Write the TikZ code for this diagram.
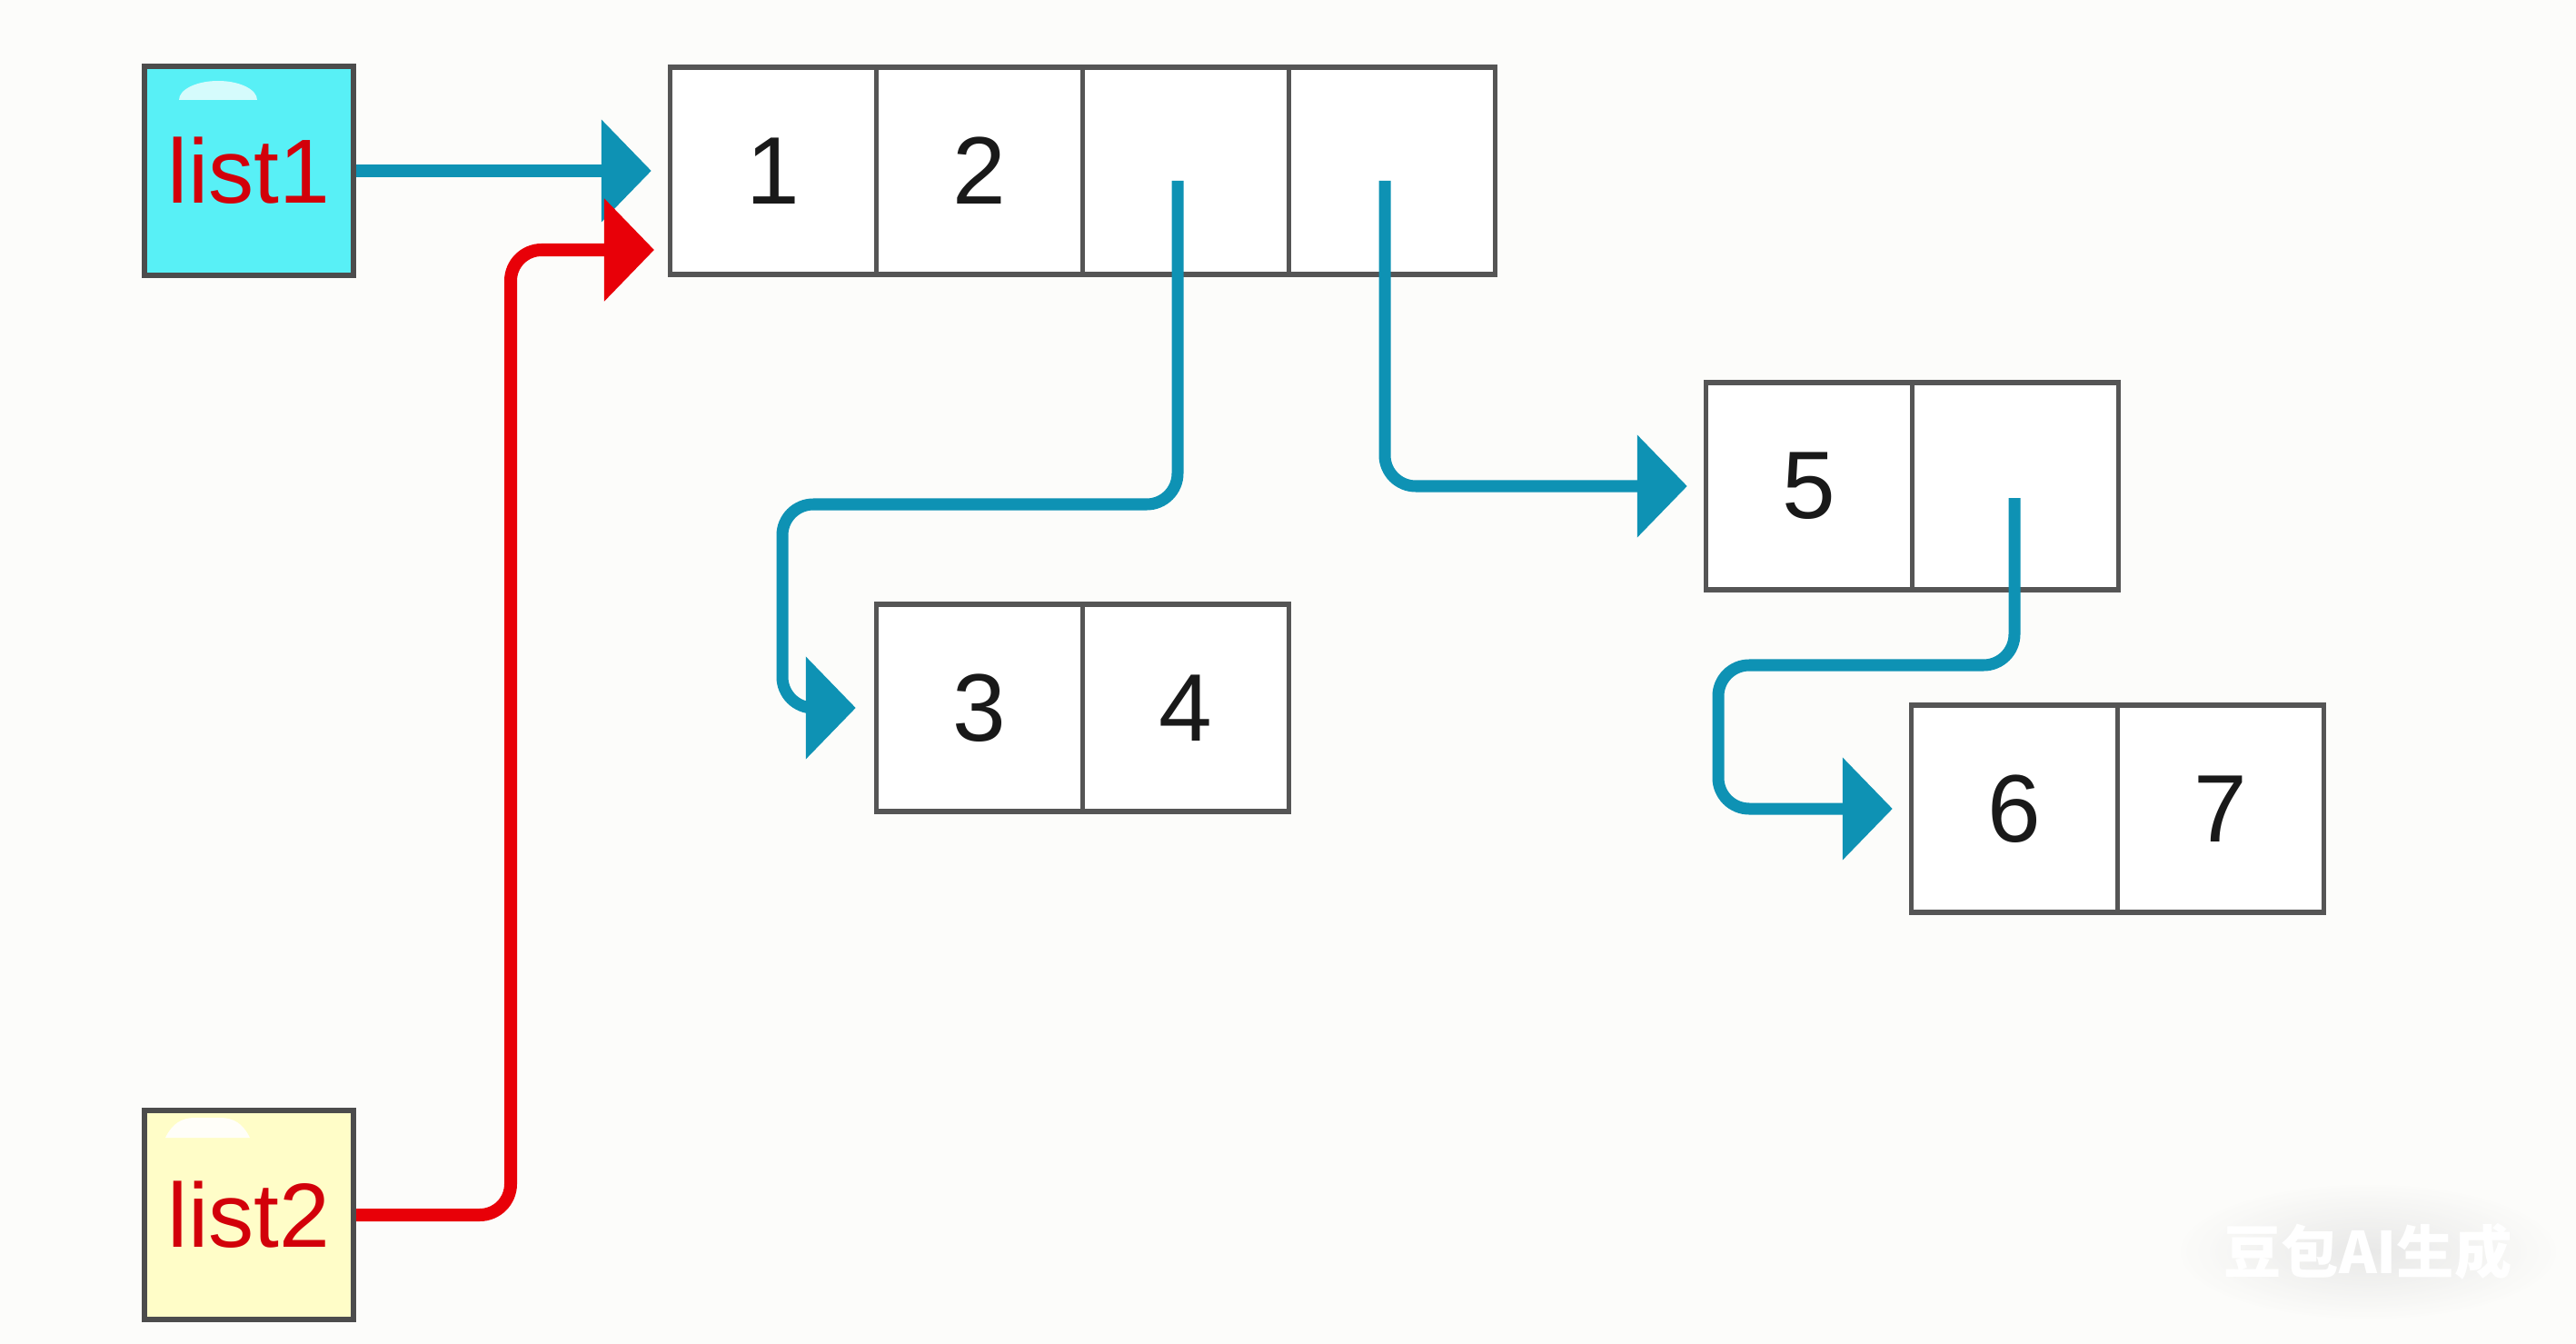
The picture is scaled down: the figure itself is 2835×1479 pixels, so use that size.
\documentclass[tikz,border=0pt]{standalone}
\usepackage{fontspec}
\setmainfont{Liberation Sans}
\newfontfamily\cjkfont{Noto Sans CJK SC}
\usetikzlibrary{arrows.meta,calc}
\definecolor{bgc}{RGB}{252,252,250}
\definecolor{ptrblue}{RGB}{14,146,180}
\definecolor{ptrred}{RGB}{232,0,8}
\definecolor{lblred}{RGB}{210,0,10}
\definecolor{cyanfill}{RGB}{88,240,246}
\definecolor{yellowfill}{RGB}{255,253,200}
\definecolor{boxline}{RGB}{85,85,85}
\tikzset{
  cell/.style={draw=boxline, line width=1.5pt, fill=white, minimum width=2.27cm, minimum height=2.28cm,
    inner sep=0pt, font=\fontsize{30}{32}\selectfont, text=black!90},
  listbox/.style={draw=boxline!90!black, line width=1.8pt, minimum width=2.3cm, minimum height=2.3cm,
    inner sep=0pt, font=\fontsize{28.5}{30}\selectfont, text=lblred},
  blueptr/.style={draw=ptrblue, line width=0.13cm, rounded corners=0.34cm,
    -{Triangle[length=0.55cm,width=1.1cm]}},
  redptr/.style={draw=ptrred, line width=0.14cm, rounded corners=0.34cm,
    -{Triangle[length=0.55cm,width=1.1cm]}}
}
\begin{document}
\begin{tikzpicture}[x=0.01cm,y=-0.01cm]
\fill[bgc] (0,0) rectangle (2835,1479);
\useasboundingbox (0,0) rectangle (2835,1479);

% list boxes
\node[listbox, fill=cyanfill] (list1) at (274,188) {list1};
\node[listbox, fill=yellowfill] (list2) at (274,1337) {list2};
\fill[white, opacity=0.75] (197,110) arc[start angle=180, end angle=360, x radius=43, y radius=21] -- cycle;
\fill[white, opacity=0.9] (182,1252) .. controls (190,1236) and (200,1230) .. (215,1230) -- (242,1230) .. controls (257,1230) and (267,1236) .. (275,1252) -- cycle;

% top array
\node[cell] (a1) at (851,188) {1};
\node[cell] (a2) at (1078,188) {2};
\node[cell] (a3) at (1305,188) {};
\node[cell] (a4) at (1532,188) {};

% [3,4]
\node[cell] (b3) at (1078,779) {3};
\node[cell] (b4) at (1305,779) {4};

% [5, ]
\node[cell] (c5) at (1991,535) {5};
\node[cell] (c6) at (2218,535) {};

% [6,7]
\node[cell] (d6) at (2217,890) {6};
\node[cell] (d7) at (2444,890) {7};

% pointer start points and free ends
\coordinate (p3) at (1296,199);
\coordinate (p4) at (1524,199);
\coordinate (p6) at (2217,548);
\coordinate (redin) at (720,275);

% connectors
\draw[blueptr] (list1.east) -- ($(a1.west)+(-18,0)$);
\draw[redptr] (list2.east) -- (562,1337) -- (562,275) -- (redin);
\draw[blueptr] (p3) -- (1296,555) -- (861,555) -- (861,779) -- ($(b3.west)+(-20,0)$);
\draw[blueptr] (p4) -- (1524,535) -- ($(c5.west)+(-18,0)$);
\draw[blueptr] (p6) -- (2217,732) -- (1891,732) -- (1891,890) -- ($(d6.west)+(-18,0)$);

% watermark
\shade[inner color=black!14, outer color=bgc, opacity=0.6] (2606,1377) ellipse[x radius=210, y radius=75];
\node[text=white, font=\cjkfont\bfseries\fontsize{18}{20}\selectfont, inner sep=0pt] (wm) at (2606,1377) {豆包AI生成};
\end{tikzpicture}
\end{document}
